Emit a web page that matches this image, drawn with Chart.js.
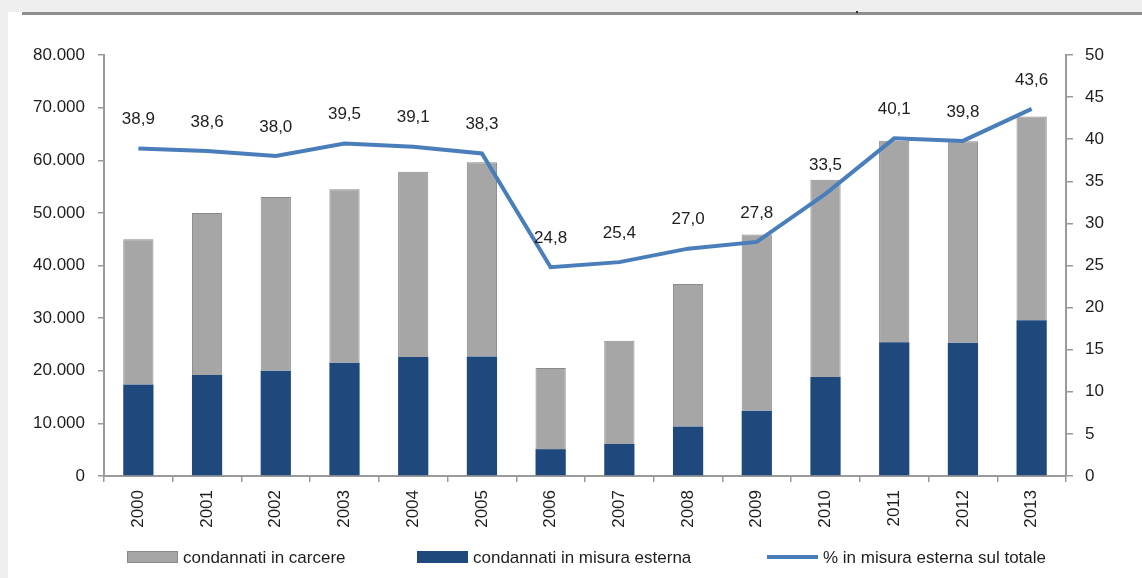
<!DOCTYPE html>
<html>
<head>
<meta charset="utf-8">
<script src="https://cdn.jsdelivr.net/npm/chart.js@4.4.1/dist/chart.umd.min.js"></script>
<style>
  html, body { margin: 0; padding: 0; background: #ffffff; }
  #wrap { position: relative; width: 1142px; height: 578px; }
  canvas { display: block; }
</style>
</head>
<body>
<div id="wrap"><canvas id="c" width="1142" height="578"></canvas></div>
<script>
// ---- data ----
const years = ['2000','2001','2002','2003','2004','2005','2006','2007','2008','2009','2010','2011','2012','2013'];
const condannatiMisuraEsterna = [17400, 19200, 20000, 21500, 22600, 22700, 5100, 6100, 9400, 12400, 18800, 25400, 25300, 29600];
const condannatiCarcere      = [27600, 30800, 33000, 33000, 35200, 36900, 15400, 19600, 27100, 33500, 37500, 38300, 38300, 38700];
const percMisuraEsterna      = [38.9, 38.6, 38.0, 39.5, 39.1, 38.3, 24.8, 25.4, 27.0, 27.8, 33.5, 40.1, 39.8, 43.6];
const leftTicksMax = 80000, leftStep = 10000;
const rightTicksMax = 50, rightStep = 5;

const FONT = "'Liberation Sans', Arial, Helvetica, sans-serif";
const TXT = '#1e1e1e';
const AXIS = '#9a9a9a';
const GRAY = '#a6a6a6';
const NAVY = '#1f497d';
const LINE = '#4a7ebb';

function fmtThousands(v) {
  return String(Math.round(v)).replace(/\B(?=(\d{3})+(?!\d))/g, '.');
}
function fmtDec(v) { return v.toFixed(1).replace('.', ','); }

const bgPlugin = {
  id: 'bg',
  beforeDraw(chart) {
    const ctx = chart.ctx;
    ctx.save();
    ctx.fillStyle = '#ffffff';
    ctx.fillRect(0, 0, chart.width, chart.height);
    ctx.fillStyle = '#efefef';
    ctx.fillRect(0, 0, chart.width, 12);
    ctx.fillRect(0, 0, 8, chart.height);
    ctx.fillStyle = '#8e8e8e';
    ctx.fillRect(22, 12, chart.width - 22, 3);
    ctx.fillStyle = '#333';
    ctx.fillRect(856, 11, 2, 2);
    ctx.restore();
  }
};

const labelsPlugin = {
  id: 'lineLabels',
  afterDatasetsDraw(chart) {
    const ctx = chart.ctx;
    const idx = chart.data.datasets.findIndex(d => d.type === 'line');
    const meta = chart.getDatasetMeta(idx);
    const data = chart.data.datasets[idx].data;
    ctx.save();
    ctx.font = '17px ' + FONT;
    ctx.fillStyle = TXT;
    ctx.textAlign = 'center';
    ctx.textBaseline = 'middle';
    meta.data.forEach((pt, i) => {
      ctx.fillText(fmtDec(data[i]), pt.x, pt.y - 29);
    });
    ctx.restore();
  }
};

const legendPlugin = {
  id: 'customLegend',
  afterDraw(chart, args, opts) {
    const ctx = chart.ctx;
    ctx.save();
    ctx.font = '17px ' + FONT;
    ctx.textBaseline = 'middle';
    ctx.textAlign = 'left';
    const cy = opts.y;
    opts.items.forEach(it => {
      const ds = chart.data.datasets[it.dataset];
      if (ds.type === 'line') {
        ctx.strokeStyle = ds.borderColor;
        ctx.lineWidth = 4;
        ctx.beginPath();
        ctx.moveTo(it.x, cy);
        ctx.lineTo(it.x + opts.boxW, cy);
        ctx.stroke();
      } else {
        ctx.fillStyle = ds.backgroundColor;
        ctx.fillRect(it.x, cy - 6, opts.boxW, 12);
        if (ds.borderWidth) {
          ctx.strokeStyle = ds.borderColor;
          ctx.lineWidth = 1;
          ctx.strokeRect(it.x + 0.5, cy - 5.5, opts.boxW - 1, 11);
        }
      }
      ctx.fillStyle = TXT;
      ctx.fillText(ds.label, it.x + opts.boxW + 5, cy + 1);
    });
    ctx.restore();
  }
};

new Chart(document.getElementById('c'), {
  data: {
    labels: years,
    datasets: [
      {
        type: 'bar',
        label: 'condannati in misura esterna',
        data: condannatiMisuraEsterna,
        backgroundColor: NAVY,
        borderWidth: 0,
        yAxisID: 'y',
        order: 1,
        categoryPercentage: 1,
        barPercentage: 0.44
      },
      {
        type: 'bar',
        label: 'condannati in carcere',
        data: condannatiCarcere,
        backgroundColor: GRAY,
        borderColor: '#8a8a8a',
        borderWidth: 1,
        borderSkipped: 'bottom',
        yAxisID: 'y',
        order: 1,
        categoryPercentage: 1,
        barPercentage: 0.44
      },
      {
        type: 'line',
        label: '% in misura esterna sul totale',
        data: percMisuraEsterna,
        borderColor: LINE,
        backgroundColor: LINE,
        borderWidth: 4,
        pointRadius: 0,
        tension: 0,
        yAxisID: 'y1',
        order: 0
      }
    ]
  },
  options: {
    responsive: false,
    animation: false,
    layout: { padding: { top: 55, bottom: 0, left: 0, right: 0 } },
    plugins: {
      legend: { display: false },
      tooltip: { enabled: false },
      customLegend: {
        y: 557,
        boxW: 51,
        items: [ { dataset: 1, x: 127 }, { dataset: 0, x: 417 }, { dataset: 2, x: 767 } ]
      }
    },
    scales: {
      x: {
        stacked: true,
        offset: true,
        grid: { display: true, drawOnChartArea: false, drawTicks: true, tickLength: 6, color: AXIS, lineWidth: 1.5, offset: true },
        border: { display: true, color: AXIS, width: 2 },
        ticks: { color: TXT, font: { family: FONT, size: 17 }, minRotation: 90, maxRotation: 90, padding: 8, autoSkip: false },
        afterFit(s) { s.height = 102; }
      },
      y: {
        stacked: true,
        position: 'left',
        min: 0, max: leftTicksMax,
        grid: { display: true, drawOnChartArea: false, drawTicks: true, tickLength: 6, color: AXIS, lineWidth: 1.5 },
        border: { display: true, color: AXIS, width: 2 },
        ticks: { stepSize: leftStep, color: TXT, font: { family: FONT, size: 17 }, padding: 13, callback: v => fmtThousands(v) },
        afterFit(s) { s.width = 104; }
      },
      y1: {
        stacked: false,
        position: 'right',
        min: 0, max: rightTicksMax,
        grid: { display: true, drawOnChartArea: false, drawTicks: true, tickLength: 7, color: AXIS, lineWidth: 1.5 },
        border: { display: true, color: AXIS, width: 2 },
        ticks: { stepSize: rightStep, color: TXT, font: { family: FONT, size: 17 }, padding: 12 },
        afterFit(s) { s.width = 76; }
      }
    }
  },
  plugins: [bgPlugin, labelsPlugin, legendPlugin]
});
</script>
</body>
</html>
